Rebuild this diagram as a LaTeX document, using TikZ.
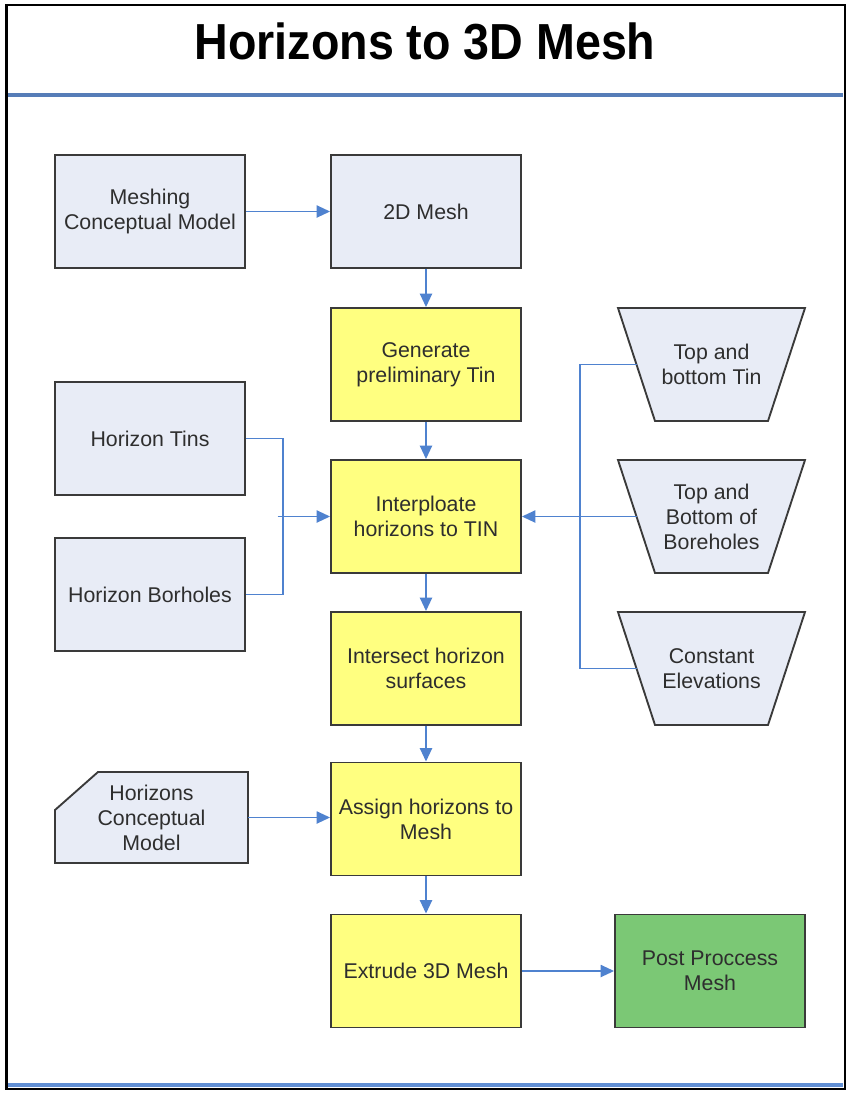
\documentclass[tikz,border=0pt]{standalone}
\usepackage{fontspec}
\setmainfont{Liberation Sans}
\usetikzlibrary{arrows.meta}
\definecolor{boxfill}{HTML}{E8ECF6}
\definecolor{yel}{HTML}{FFFF80}
\definecolor{grn}{HTML}{7BC875}
\definecolor{conn}{HTML}{4F82CF}
\definecolor{bord}{HTML}{3A3A3A}
\definecolor{txt}{HTML}{2E2E2E}
\begin{document}
\begin{tikzpicture}[x=0.75pt,y=-0.75pt,
  base/.style={text=txt,align=center,
    font=\fontsize{16pt}{18.75pt}\selectfont,inner sep=2pt},
  gbox/.style={base,draw=bord,line width=1.4pt,rectangle,fill=boxfill,minimum width=142.5pt,minimum height=84.75pt},
  ybox/.style={gbox,fill=yel},
  greenbox/.style={gbox,fill=grn},
  shapeline/.style={draw=bord,line width=1.4pt,fill=boxfill,line join=miter},
  line/.style={draw=conn,line width=1.4pt},
  arr/.style={line,-{Triangle[length=10pt,width=9pt]}}
]
\useasboundingbox (0,0) rectangle (848,1093);
\fill[white] (0,0) rectangle (848,1093);
% frame
\draw[black,line width=2.2pt] (6.5,5) rectangle (845,1089);
\draw[conn!85!black!90,line width=2.4pt] (8,95) -- (843,95);
\draw[conn!90,line width=3.5pt] (8,1085) -- (843,1085);
% title
\node (title) at (425,41) {\scalebox{0.92}[1]{\fontsize{38pt}{44pt}\selectfont\bfseries Horizons to 3D Mesh}};
% boxes
\node[gbox] (mcm) at (150,211.5) {Meshing\\Conceptual Model};
\node[gbox] (m2d) at (426,211.5) {2D Mesh};
\node[ybox] (gen) at (426,364.5) {Generate\\preliminary Tin};
\node[gbox] (htins) at (150,438.5) {Horizon Tins};
\node[ybox] (interp) at (426,516.5) {Interploate\\horizons to TIN};
\node[gbox] (hbor) at (150,594.5) {Horizon Borholes};
\node[ybox] (inter) at (426,668.5) {Intersect horizon\\surfaces};
\node[ybox] (assign) at (426,819) {Assign horizons to\\Mesh};
\node[ybox] (extr) at (426,971) {Extrude 3D Mesh};
\node[greenbox] (post) at (710,971) {Post Proccess\\Mesh};
% cut-corner box
\path[shapeline] (55,810) -- (98,772) -- (248,772) -- (248,863) -- (55,863) -- cycle;
\node[base] (hcm) at (151.5,817.5) {Horizons\\Conceptual\\Model};
\coordinate (hcme) at (248,817.5);
% trapezoids
\foreach \n/\y in {t1/364.5,t2/516.5,t3/668.5}{
  \path[shapeline] (618,\y-56.5) -- (805,\y-56.5) -- (768,\y+56.5) -- (655,\y+56.5) -- cycle;
  \coordinate (\n w) at (636.5,\y);
}
\node[base] (t1) at (711.5,364.5) {Top and\\bottom Tin};
\node[base] (t2) at (711.5,516.5) {Top and\\Bottom of\\Boreholes};
\node[base] (t3) at (711.5,668.5) {Constant\\Elevations};
% junctions
\coordinate (jl) at (283,516.5);
\coordinate (jr) at (580,516.5);
% connectors
\draw[arr] (mcm) -- (m2d);
\draw[arr] (m2d) -- (gen);
\draw[arr] (gen) -- (interp);
\draw[arr] (interp) -- (inter);
\draw[arr] (inter) -- (assign);
\draw[arr] (assign) -- (extr);
\draw[arr] (extr) -- (post);
\draw[arr] (hcme) -- (hcme -| assign.west);
\draw[line] (htins.east) -| (jl) |- (hbor.east);
\draw[arr] ([xshift=-4]jl) -- (interp.west);
\draw[line] (t1w) -| (jr) |- (t3w);
\draw[arr] (t2w) -- (interp.east);
\end{tikzpicture}
\end{document}
